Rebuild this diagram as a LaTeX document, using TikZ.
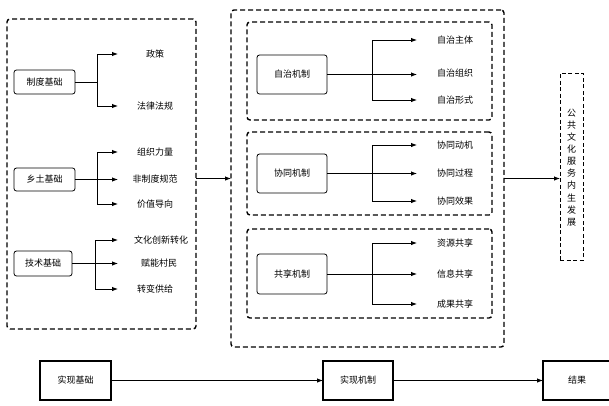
\documentclass[tikz,border=0pt]{standalone}
\usepackage{fontspec}
\newfontfamily\cjk{Noto Sans CJK SC}
\usetikzlibrary{arrows.meta}
\begin{document}
\begin{tikzpicture}[x=1pt,y=-1pt,
  font=\cjk\fontsize{9}{11}\selectfont,
  dbox/.style={draw, dash pattern=on 5pt off 3pt, line width=1.4pt, rounded corners=3pt, inner sep=0pt, outer sep=0pt},
  rdbox/.style={draw, dash pattern=on 4pt off 2.5pt, line width=1pt, inner sep=0pt, outer sep=0pt},
  rbox/.style={draw, line width=0.8pt, rounded corners=2.5pt, inner sep=0pt, outer sep=0pt},
  sbox/.style={draw, line width=1.1pt, inner sep=0pt, outer sep=0pt},
  arr/.style={-{Latex[length=6pt,width=4.5pt]}, line width=0.9pt},
  ln/.style={line width=0.9pt},
  lbl/.style={inner sep=0pt}]
\useasboundingbox (0,0) rectangle (609,405);
\fill[white] (0,0) rectangle (609,405);

% containers
\node[dbox, minimum width=189pt, minimum height=310pt] (L) at (101.5,174) {};
\node[dbox, minimum width=273pt, minimum height=337pt] (M) at (367.5,178.5) {};
\node[dbox, minimum width=245pt, minimum height=98pt] (IA) at (369.5,71) {};
\node[dbox, minimum width=245pt, minimum height=83pt] (IB) at (369.5,173.5) {};
\node[dbox, minimum width=245pt, minimum height=89pt] (IC) at (369.5,273.5) {};
\node[rdbox, minimum width=23pt, minimum height=187pt] (R) at (571.5,166.5) {};
\node[lbl, align=center, font=\cjk\fontsize{9}{12.1}\selectfont] (Rt) at (571.5,167.5) {公\\共\\文\\化\\服\\务\\内\\生\\发\\展};

% left group 1
\node[rbox, minimum width=61pt, minimum height=24pt] (zd) at (44.5,82) {制度基础};
\coordinate (b1) at (97,82);
\coordinate (t11) at (118,54);
\coordinate (t12) at (118,106);
\node[lbl] (zc) at (155,54) {政策};
\node[lbl] (fl) at (155,106) {法律法规};
\draw[ln] (zd.east) -- (b1);
\draw[arr] (b1) |- (t11);
\draw[arr] (b1) |- (t12);

% left group 2
\node[rbox, minimum width=61pt, minimum height=23pt] (xt) at (44.5,179.5) {乡土基础};
\coordinate (b2) at (97,179.5);
\coordinate (t21) at (118,152);
\coordinate (t22) at (118,179.5);
\coordinate (t23) at (118,204);
\node[lbl] (zz2) at (155,152) {组织力量};
\node[lbl] (fz) at (155,179.5) {非制度规范};
\node[lbl] (jz) at (155,204) {价值导向};
\draw[arr] (xt.east) -- (t22);
\draw[arr] (b2) |- (t21);
\draw[arr] (b2) |- (t23);

% left group 3
\node[rbox, minimum width=58pt, minimum height=25pt] (js) at (43,263.5) {技术基础};
\coordinate (b3) at (95,263.5);
\coordinate (t31) at (118,240);
\coordinate (t32) at (118,263.5);
\coordinate (t33) at (118,289);
\node[lbl] (wh) at (161,240) {文化创新转化};
\node[lbl] (fn) at (159,263.5) {赋能村民};
\node[lbl] (zb) at (155,289) {转变供给};
\draw[arr] (js.east) -- (t32);
\draw[arr] (b3) |- (t31);
\draw[arr] (b3) |- (t33);

% main group A
\node[rbox, minimum width=70pt, minimum height=39pt] (zz) at (292,74.5) {自治机制};
\coordinate (bA) at (372,74.5);
\coordinate (tA1) at (417,40);
\coordinate (tA2) at (417,74.5);
\coordinate (tA3) at (417,100);
\node[lbl] (A1) at (455,40) {自治主体};
\node[lbl] (A2) at (455,73) {自治组织};
\node[lbl] (A3) at (455,100) {自治形式};
\draw[arr] (zz.east) -- (tA2);
\draw[arr] (bA) |- (tA1);
\draw[arr] (bA) |- (tA3);

% main group B
\node[rbox, minimum width=70pt, minimum height=39pt] (xz) at (292,173.5) {协同机制};
\coordinate (bB) at (372,173.5);
\coordinate (tB1) at (417,145);
\coordinate (tB2) at (417,173.5);
\coordinate (tB3) at (417,201);
\node[lbl] (B1) at (455,145) {协同动机};
\node[lbl] (B2) at (455,173.5) {协同过程};
\node[lbl] (B3) at (455,201) {协同效果};
\draw[arr] (xz.east) -- (tB2);
\draw[arr] (bB) |- (tB1);
\draw[arr] (bB) |- (tB3);

% main group C
\node[rbox, minimum width=70pt, minimum height=40pt] (gx) at (292,274) {共享机制};
\coordinate (bC) at (372,274);
\coordinate (tC1) at (417,243);
\coordinate (tC2) at (417,274);
\coordinate (tC3) at (417,304);
\node[lbl] (C1) at (455,243) {资源共享};
\node[lbl] (C2) at (455,274) {信息共享};
\node[lbl] (C3) at (455,304) {成果共享};
\draw[arr] (gx.east) -- (tC2);
\draw[arr] (bC) |- (tC1);
\draw[arr] (bC) |- (tC3);

% container connectors
\draw[arr] (L.east |- M.west) -- (M.west);
\draw[arr] (M.east) -- (M.east -| R.west);

% bottom row
\node[sbox, minimum width=71pt, minimum height=39pt] (sj) at (75.5,380.5) {实现基础};
\node[sbox, minimum width=70pt, minimum height=39pt] (sz) at (358,380.5) {实现机制};
\node[sbox, minimum width=68pt, minimum height=39pt] (jg) at (577,380.5) {结果};
\draw[arr] (sj.east) -- (sz.west);
\draw[arr] (sz.east) -- (jg.west);
\end{tikzpicture}
\end{document}
